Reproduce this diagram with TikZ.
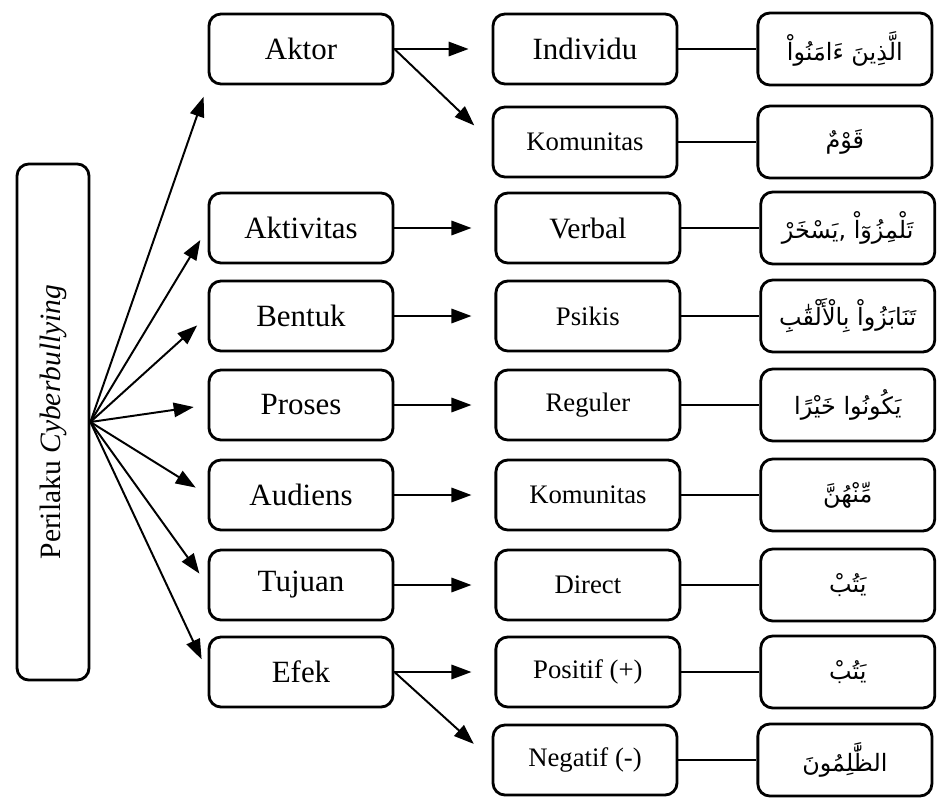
\documentclass[tikz,border=0pt]{standalone}
\usepackage{fontspec}
\setmainfont{Liberation Serif}
\newfontfamily\arabicfont[Script=Arabic]{DejaVu Sans}
\TeXXeTstate=1
\usetikzlibrary{arrows.meta,positioning}

\begin{document}
\begin{tikzpicture}[x=0.025cm,y=-0.025cm,node distance=1.95cm and 1.95cm]

\tikzset{boxnode/.style={draw,line width=2pt,rounded corners=0.3cm,minimum width=4.6cm,minimum height=1.75cm,inner sep=2pt,font=\fontsize{22}{26}\selectfont},
smallnode/.style={boxnode,font=\fontsize{19}{23}\selectfont},
arabnode/.style={boxnode,minimum width=4.35cm,minimum height=1.8cm,font=\arabicfont\fontsize{17}{22}\selectfont},
arr/.style={-{Triangle[length=0.5cm,width=0.36cm]},line width=1.4pt},
link/.style={line width=1.4pt}}

\useasboundingbox (0,0) rectangle (941,797);

% Main box
\node[boxnode,rotate=90,minimum width=12.9cm,minimum height=1.8cm,font=\fontsize{21}{25}\selectfont] (pelaku) at (53,422) {Perilaku \textit{Cyberbullying}};

% Aspects
\node[boxnode] (aktor) at (301,49) {Aktor};
\node[boxnode] (aktivitas) at (301,228) {Aktivitas};
\node[boxnode] (bentuk) at (301,316) {Bentuk};
\node[boxnode] (proses) at (301,405) {Proses};
\node[boxnode] (audiens) at (301,495) {Audiens};
\node[boxnode] (tujuan) at (301,585) {Tujuan};
\node[boxnode] (efek) at (301,672) {Efek};

% Categories
\node[boxnode] (individu) at (585,49) {Individu};
\node[smallnode] (komunitasA) at (585,142) {Komunitas};
\node[boxnode,right=2.5cm of aktivitas,font=\fontsize{21}{25}\selectfont] (verbal) {Verbal};
\node[smallnode,right=2.5cm of bentuk] (psikis) {Psikis};
\node[smallnode,right=2.5cm of proses] (reguler) {Reguler};
\node[smallnode,right=2.5cm of audiens] (komunitasB) {Komunitas};
\node[smallnode,right=2.5cm of tujuan] (direct) {Direct};
\node[smallnode,right=2.5cm of efek] (positif) {Positif (+)};
\node[smallnode] (negatif) at (585,760) {Negatif (-)};

% Quranic terms
\node[arabnode,right=of individu] (arabA) {\beginR الَّذِينَ ءَامَنُواْ\endR};
\node[arabnode,right=of komunitasA] (arabB) {\beginR قَوْمٌ\endR};
\node[arabnode,right=of verbal] (arabC) {\beginR تَلْمِزُوٓاْ ,\kern0pt يَسْخَرْ\endR};
\node[arabnode,right=of psikis] (arabD) {\beginR تَنَابَزُواْ بِالْأَلْقَٰبِ\endR};
\node[arabnode,right=of reguler] (arabE) {\beginR يَكُونُوا خَيْرًا\endR};
\node[arabnode,right=of komunitasB] (arabF) {\beginR مِّنْهُنَّ\endR};
\node[arabnode,right=of direct] (arabG) {\beginR يَتُبْ\endR};
\node[arabnode,right=of positif] (arabH) {\beginR يَتُبْ\endR};
\node[arabnode,right=of negatif] (arabI) {\beginR الظَّٰلِمُونَ\endR};

% Fan
\draw[arr,shorten >=0.3cm] (pelaku.south) -- (aktor.south west);
\foreach \n in {aktivitas,bentuk,proses,audiens,tujuan,efek} \draw[arr,shorten >=0.35cm] (pelaku.south) -- (\n.west);

% Aspect to category
\draw[arr,shorten >=0.575cm] (aktor.east) -- (individu.west);
\draw[arr,shorten >=0.6cm] (aktor.east) -- (komunitasA.west);
\draw[arr,shorten >=0.575cm] (aktivitas.east) -- (verbal.west);
\draw[arr,shorten >=0.575cm] (bentuk.east) -- (psikis.west);
\draw[arr,shorten >=0.575cm] (proses.east) -- (reguler.west);
\draw[arr,shorten >=0.575cm] (audiens.east) -- (komunitasB.west);
\draw[arr,shorten >=0.575cm] (tujuan.east) -- (direct.west);
\draw[arr,shorten >=0.575cm] (efek.east) -- (positif.west);
\draw[arr,shorten >=0.6cm] (efek.east) -- (negatif.west);

% Category to term
\draw[link] (individu) -- (arabA); \draw[link] (komunitasA) -- (arabB);
\draw[link] (verbal) -- (arabC); \draw[link] (psikis) -- (arabD);
\draw[link] (reguler) -- (arabE); \draw[link] (komunitasB) -- (arabF);
\draw[link] (direct) -- (arabG); \draw[link] (positif) -- (arabH);
\draw[link] (negatif) -- (arabI);

\end{tikzpicture}
\end{document}
